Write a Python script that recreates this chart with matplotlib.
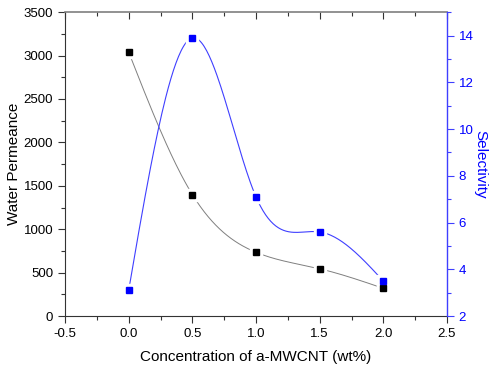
import numpy as np
import matplotlib
matplotlib.use("Agg")
import matplotlib.pyplot as plt
from matplotlib.ticker import MultipleLocator

plt.rcParams['font.family'] = ['Liberation Sans', 'DejaVu Sans']

# data
conc = [0.0, 0.5, 1.0, 1.5, 2.0]
permeance = [3040, 1400, 735, 545, 320]
selectivity = [3.1, 13.9, 7.1, 5.6, 3.5]


def spline(x, y, n=200):
    # natural cubic spline, only used to draw the smooth connecting line
    x = np.asarray(x, float)
    y = np.asarray(y, float)
    h = np.diff(x)
    m = len(x)
    A = np.zeros((m, m))
    b = np.zeros(m)
    A[0, 0] = A[-1, -1] = 1
    for i in range(1, m - 1):
        A[i, i - 1] = h[i - 1]
        A[i, i] = 2 * (h[i - 1] + h[i])
        A[i, i + 1] = h[i]
        b[i] = 6 * ((y[i + 1] - y[i]) / h[i] - (y[i] - y[i - 1]) / h[i - 1])
    M = np.linalg.solve(A, b)
    xs = np.linspace(x[0], x[-1], n)
    idx = np.clip(np.searchsorted(x, xs) - 1, 0, m - 2)
    t0 = xs - x[idx]
    t1 = x[idx + 1] - xs
    hi = h[idx]
    ys = (M[idx] * t1**3 + M[idx + 1] * t0**3) / (6 * hi) \
        + (y[idx] / hi - M[idx] * hi / 6) * t1 \
        + (y[idx + 1] / hi - M[idx + 1] * hi / 6) * t0
    return xs, ys


fig = plt.figure(figsize=(5, 3.68), dpi=100)
ax = fig.add_axes([0.13, 0.141, 0.764, 0.826])
ax2 = ax.twinx()

# lines first, then white pads (gap round the markers), then markers
xs, ys = spline(conc, permeance)
ax.plot(xs, ys, color='#7f7f7f', lw=0.7, zorder=1)
xs, ys = spline(conc, selectivity)
ax2.plot(xs, ys, color='#3f3fff', lw=0.8, zorder=1)

ax2.plot(conc, permeance, ls='none', marker='s', ms=9, color='white', mec='white',
         zorder=2, transform=ax.transData)
ax2.plot(conc, selectivity, ls='none', marker='s', ms=9, color='white', mec='white', zorder=2)
ax2.plot(conc, permeance, ls='none', marker='s', ms=5, color='black', zorder=3,
         transform=ax.transData)
ax2.plot(conc, selectivity, ls='none', marker='s', ms=5, color='#0000ff', zorder=3)

ax.set_xlim(-0.5, 2.5)
ax.set_ylim(0, 3500)
ax2.set_ylim(2, 15)

ax.xaxis.set_major_locator(MultipleLocator(0.5))
ax.xaxis.set_minor_locator(MultipleLocator(0.25))
ax.yaxis.set_major_locator(MultipleLocator(500))
ax.yaxis.set_minor_locator(MultipleLocator(250))
ax2.yaxis.set_major_locator(MultipleLocator(2))
ax2.yaxis.set_minor_locator(MultipleLocator(1))
ax.xaxis.set_major_formatter(matplotlib.ticker.FormatStrFormatter('%.1f'))

ax.tick_params(axis='x', which='major', direction='out', length=5, width=0.8,
               labelsize=9.5, top=True, colors='#333333', labelcolor='black')
ax.tick_params(axis='x', which='minor', direction='out', length=3, width=0.8, top=True,
               colors='#333333')
ax.tick_params(axis='y', which='major', direction='out', length=5, width=0.8,
               labelsize=9.5, colors='#333333', labelcolor='black')
ax.tick_params(axis='y', which='minor', direction='out', length=3, width=0.8, colors='#333333')
ax2.tick_params(axis='y', which='major', direction='out', length=5, width=0.8,
                labelsize=9.5, colors='#3f3fff', labelcolor='#0000ff')
ax2.tick_params(axis='y', which='minor', direction='out', length=3, width=0.8, colors='#3f3fff')
# top ticks point into the plot
for t in ax.xaxis.get_major_ticks() + ax.xaxis.get_minor_ticks():
    t.tick2line.set_marker(matplotlib.lines.TICKDOWN)

for side in ['left', 'bottom']:
    ax.spines[side].set_color('#333333')
ax.spines['top'].set_color('#7f7f7f')
ax.spines['top'].set_linewidth(1.2)
ax2.spines['top'].set_visible(False)
ax2.spines['left'].set_visible(False)
ax2.spines['bottom'].set_visible(False)
ax2.spines['right'].set_color('#3f3fff')
ax2.spines['right'].set_linewidth(1.0)
ax.spines['right'].set_visible(False)

ax.set_xlabel('Concentration of a-MWCNT (wt%)', fontsize=11, labelpad=7)
ax.set_ylabel('Water Permeance', fontsize=11, labelpad=2)
ax2.set_ylabel('Selectivity', fontsize=11, color='#0000ff', rotation=270, labelpad=10)

fig.savefig('out.png', dpi=100)
